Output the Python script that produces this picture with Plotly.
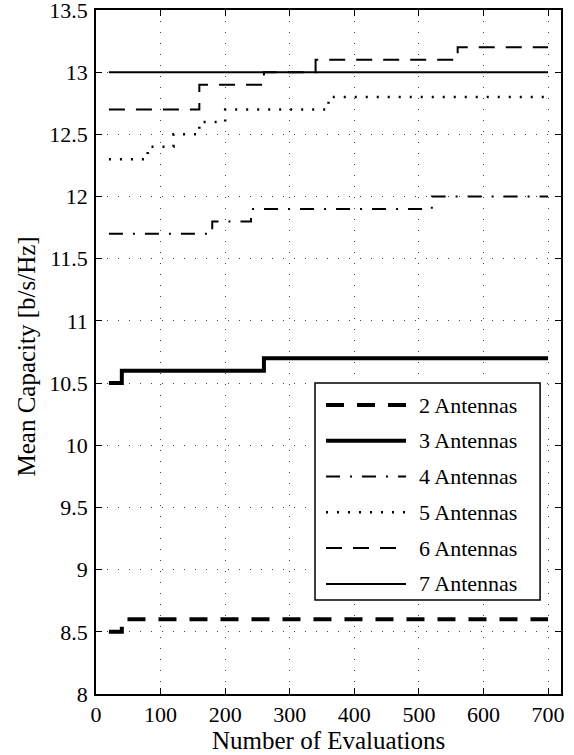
import plotly.graph_objects as go

# ---- data (step functions: value holds from x until the next x) ----
names = ["2 Antennas", "3 Antennas", "4 Antennas", "5 Antennas", "6 Antennas", "7 Antennas"]
x2 = [20, 40, 700]
y2 = [8.5, 8.6, 8.6]
x3 = [20, 40, 260, 700]
y3 = [10.5, 10.6, 10.7, 10.7]
x4 = [20, 180, 240, 520, 700]
y4 = [11.7, 11.8, 11.9, 12.0, 12.0]
x5 = [20, 80, 120, 160, 200, 360, 700]
y5 = [12.3, 12.4, 12.5, 12.6, 12.7, 12.8, 12.8]
x6 = [20, 160, 260, 340, 560, 700]
y6 = [12.7, 12.9, 13.0, 13.1, 13.2, 13.2]
x7 = [20, 700]
y7 = [13.0, 13.0]
xticks = [0, 100, 200, 300, 400, 500, 600, 700]
yticks = [8, 8.5, 9, 9.5, 10, 10.5, 11, 11.5, 12, 12.5, 13, 13.5]

xs = [x2, x3, x4, x5, x6, x7]
ys = [y2, y3, y4, y5, y6, y7]

# styles (MATLAB-like)
widths = [4, 4, 2, 2.5, 2, 2]
dashes = ["18px,13px", "solid", "14px,10px,2px,10px", "2px,9px", "16px,11px", "solid"]

FONT = "Liberation Serif, Times New Roman, serif"

fig = go.Figure()
for xv, yv, nm, w, d in zip(xs, ys, names, widths, dashes):
    fig.add_trace(go.Scatter(x=xv, y=yv, mode="lines", name=nm,
                             line=dict(color="black", width=w, dash=d, shape="hv"),
                             showlegend=False))

# ---- custom legend box (paper coords) ----
L_X0, L_X1, L_Y0, L_Y1 = 0.471, 0.955, 0.1374, 0.4547
S_X0, S_X1, T_X = 0.4946, 0.6667, 0.6897
ROW0, ROWSTEP = 0.4225, 0.0523
fig.add_shape(type="rect", xref="paper", yref="paper", x0=L_X0, x1=L_X1, y0=L_Y0, y1=L_Y1,
              line=dict(color="black", width=1.5), fillcolor="white", layer="above")
for i, (nm, w, d) in enumerate(zip(names, widths, dashes)):
    yy = ROW0 - i * ROWSTEP
    fig.add_shape(type="line", xref="paper", yref="paper", x0=S_X0, x1=S_X1, y0=yy, y1=yy,
                  line=dict(color="black", width=w, dash=d), layer="above")
    fig.add_annotation(xref="paper", yref="paper", x=T_X, y=yy, text=nm, showarrow=False,
                       xanchor="left", yanchor="middle",
                       font=dict(family=FONT, size=22, color="black"))

# ---- axis titles ----
fig.add_annotation(xref="paper", yref="paper", x=0.5, y=-0.0687, text="Number of Evaluations",
                   showarrow=False, xanchor="center", yanchor="middle",
                   font=dict(family=FONT, size=25, color="black"))
fig.add_annotation(xref="paper", yref="paper", x=-0.1505, y=0.4934, text="Mean Capacity [b/s/Hz]",
                   showarrow=False, xanchor="center", yanchor="middle", textangle=-90,
                   font=dict(family=FONT, size=25, color="black"))

axis_common = dict(showline=True, linecolor="black", linewidth=1.5, mirror="ticks",
                   ticks="inside", ticklen=6, tickwidth=1, tickcolor="black",
                   showgrid=True, gridcolor="#444", gridwidth=1, griddash="1px,10px",
                   zeroline=False, automargin=False, ticklabeloverflow="allow",
                   tickfont=dict(family=FONT, size=22, color="black"))

fig.update_layout(
    width=574, height=755,
    margin=dict(l=96, r=13, t=10, b=61),
    paper_bgcolor="white", plot_bgcolor="white",
    xaxis=dict(range=[0, 720], tickvals=xticks, ticktext=[str(v) for v in xticks],
               ticklabelstandoff=0, **axis_common),
    yaxis=dict(range=[7.9999, 13.5001], tickvals=yticks, ticktext=[f"{v:g}" for v in yticks],
               ticklabelstandoff=2, **axis_common),
)

fig.write_html("out.html", config={"displayModeBar": False},
               post_script="document.body.style.margin='0';document.body.style.overflow='hidden';")
